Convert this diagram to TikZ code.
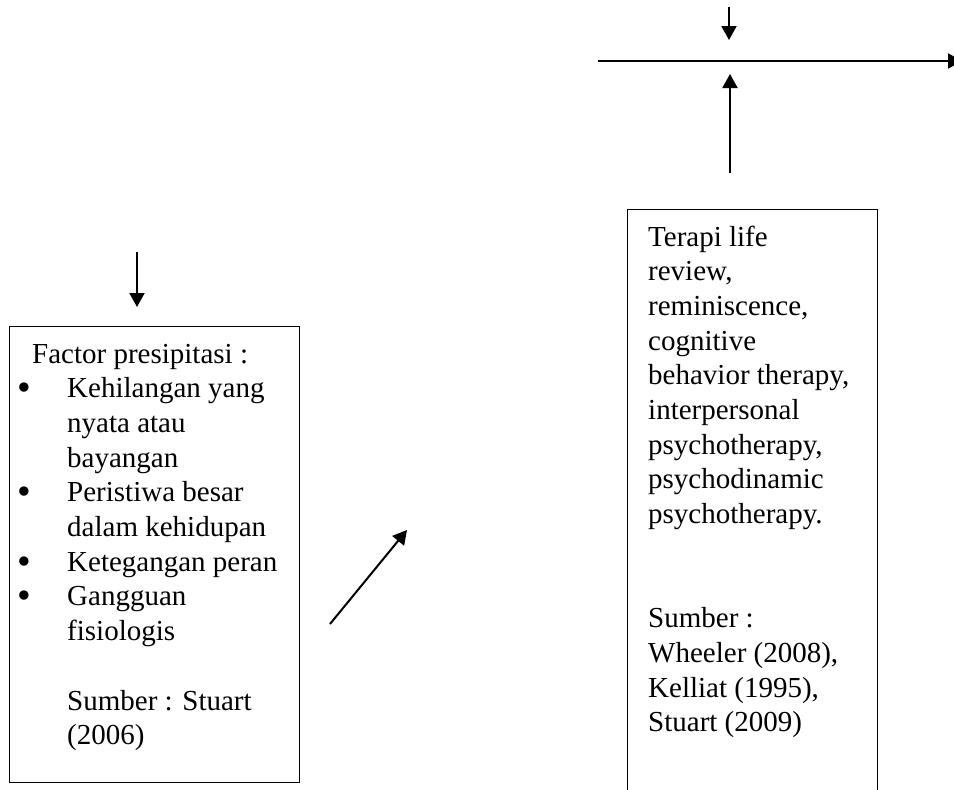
\documentclass[tikz,border=0pt]{standalone}
\usepackage{fontspec}
\setmainfont{Liberation Serif}
\usetikzlibrary{arrows.meta}
\begin{document}
\begin{tikzpicture}[x=1pt,y=-1pt,
  conn/.style={line width=2pt,-{Triangle[width=15pt,length=14pt]}},
  frame/.style={draw,line width=1.4pt,inner sep=0pt,anchor=north west},
  txt/.style={anchor=base west,inner sep=0pt,font=\fontsize{29}{34.7}\selectfont}]
\useasboundingbox (0,0) rectangle (954,790);
\clip (0,0) rectangle (954,790);
\newcommand\bitem{\hspace*{-15pt}\makebox[50pt][l]{\raisebox{-3pt}{\scalebox{1.35}{•}}}}
\newcommand\bcont{\hspace*{35pt}}
% boxes
\node[frame,minimum width=290pt,minimum height=456pt] (pre) at (9,326) {};
\node[frame,minimum width=250pt,minimum height=620pt] (ter) at (627,209) {};
% texts
\node[txt] (pretext) at (32,363) {\parbox[t]{265pt}{\raggedright
Factor presipitasi :\\
\bitem Kehilangan yang\\
\bcont nyata atau\\
\bcont bayangan\\
\bitem Peristiwa besar\\
\bcont dalam kehidupan\\
\bitem Ketegangan peran\\
\bitem Gangguan\\
\bcont fisiologis\\[34.7pt]
\bcont Sumber : Stuart\\
\bcont (2006)}};
\node[txt] (tertext) at (648,246) {\parbox[t]{225pt}{\raggedright
Terapi life\\
review,\\
reminiscence,\\
cognitive\\
behavior therapy,\\
interpersonal\\
psychotherapy,\\
psychodinamic\\
psychotherapy.\\[69.4pt]
Sumber :\\
Wheeler (2008),\\
Kelliat (1995),\\
Stuart (2009)}};
% connectors
\coordinate (a1s) at (137,252);
\coordinate (a1e) at (137,307);
\coordinate (a2s) at (330,624);
\coordinate (a2e) at (407,530);
\coordinate (a3s) at (729,7);
\coordinate (a3e) at (729,40);
\coordinate (hs) at (598,61);
\coordinate (he) at (962,61);
\coordinate (a4s) at (730,173);
\coordinate (a4e) at (730,74);
\draw[conn] (a1s) -- (a1e);
\draw[conn] (a2s) -- (a2e);
\draw[conn] (a3s) -- (a3e);
\draw[conn] (hs) -- (he);
\draw[conn] (a4s) -- (a4e);
\end{tikzpicture}
\end{document}
